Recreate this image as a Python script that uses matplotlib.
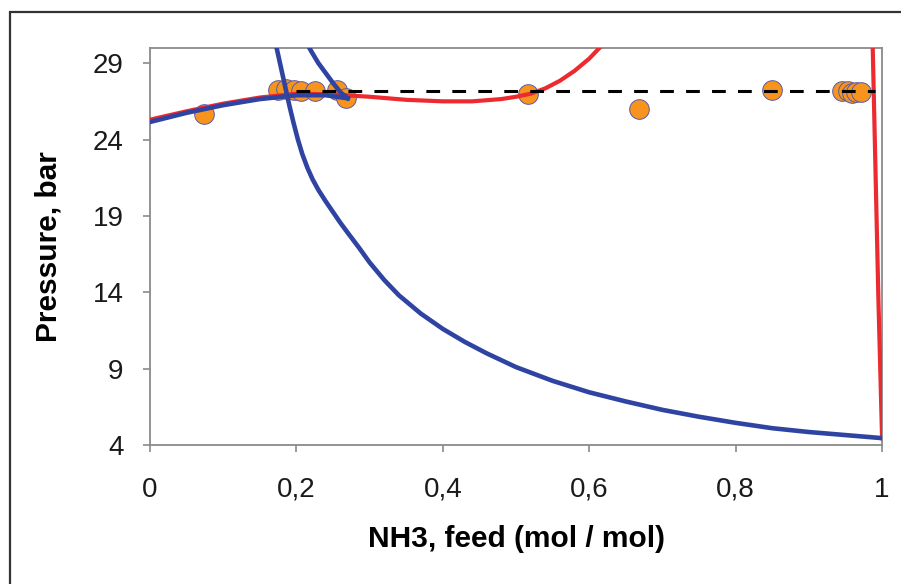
import matplotlib.pyplot as plt
from matplotlib.patches import Rectangle
from matplotlib.ticker import FixedLocator, FixedFormatter

plt.rcParams['font.family'] = ['Liberation Sans', 'DejaVu Sans']

# measured points (orange markers)
meas_x = [0.074, 0.175, 0.186, 0.196, 0.206, 0.226, 0.255, 0.268,
          0.516, 0.668, 0.849, 0.945, 0.953, 0.959, 0.965, 0.971]
meas_p = [25.7, 27.25, 27.3, 27.25, 27.2, 27.2, 27.25, 26.75,
          26.95, 26.0, 27.25, 27.2, 27.15, 27.05, 27.1, 27.1]

# red model: bubble branch and dew branch near pure NH3
red_x = [0.0, 0.05, 0.1, 0.15, 0.2, 0.25, 0.3, 0.35, 0.4, 0.44,
         0.48, 0.5, 0.52, 0.54, 0.56, 0.58, 0.60, 0.615, 0.625]
red_p = [25.3, 25.85, 26.35, 26.75, 27.0, 26.95, 26.8, 26.6, 26.5, 26.5,
         26.65, 26.8, 27.0, 27.35, 27.85, 28.5, 29.3, 30.05, 30.6]
red2_x = [0.987, 0.991, 0.995, 1.0]
red2_p = [30.5, 22.0, 13.5, 4.45]

# blue model: bubble branch, short dew branch, long dew branch
blue_x = [0.0, 0.05, 0.1, 0.15, 0.2, 0.24, 0.27]
blue_p = [25.15, 25.75, 26.25, 26.65, 26.9, 26.9, 26.7]
blue2_x = [0.212, 0.22, 0.23, 0.24, 0.25, 0.26, 0.27]
blue2_p = [30.5, 29.8, 29.0, 28.35, 27.7, 27.1, 26.7]
blue3_x = [0.172, 0.178, 0.184, 0.19, 0.196, 0.202, 0.208, 0.215, 0.222, 0.23,
           0.24, 0.25, 0.26, 0.27, 0.285, 0.30, 0.32, 0.34, 0.37, 0.40,
           0.43, 0.46, 0.50, 0.55, 0.60, 0.65, 0.70, 0.75, 0.80, 0.85,
           0.90, 0.95, 1.0]
blue3_p = [30.2, 28.9, 27.6, 26.3, 25.1, 24.0, 23.05, 22.15, 21.4, 20.7,
           19.95, 19.25, 18.55, 17.9, 16.95, 15.95, 14.8, 13.8, 12.6, 11.6,
           10.75, 10.0, 9.1, 8.2, 7.45, 6.85, 6.3, 5.85, 5.45, 5.1,
           4.85, 4.65, 4.45]

# experimental pressure level
exp_x = [0.2, 0.99]
exp_p = [27.2, 27.2]

xticks = [0, 0.2, 0.4, 0.6, 0.8, 1.0]
xtick_labels = ['0', '0,2', '0,4', '0,6', '0,8', '1']
yticks = [4, 9, 14, 19, 24, 29]

red = '#EC2A30'
blue = '#2F44A2'
orange = '#F7941E'
grey = '#8A8A8A'

fig = plt.figure(figsize=(9.01, 5.84), dpi=100)
ax = fig.add_axes([0.1665, 0.238, 0.8125, 0.68])

ax.scatter(meas_x, meas_p, s=200, color=orange, edgecolors='#5A5AA8',
           linewidths=0.7, zorder=2)
ax.plot(red_x, red_p, color=red, lw=3.0, zorder=3, solid_joinstyle='round')
ax.plot(red2_x, red2_p, color=red, lw=3.0, zorder=3)
ax.plot(blue_x, blue_p, color=blue, lw=3.3, zorder=4, solid_joinstyle='round')
ax.plot(blue2_x, blue2_p, color=blue, lw=3.3, zorder=4, solid_joinstyle='round')
ax.plot(blue3_x, blue3_p, color=blue, lw=3.3, zorder=4, solid_joinstyle='round')
ax.plot(exp_x, exp_p, color='black', lw=2.2, dashes=(4.5, 4.0), zorder=5)

ax.set_xlim(0, 1)
ax.set_ylim(4, 30)
ax.xaxis.set_major_locator(FixedLocator(xticks))
ax.xaxis.set_major_formatter(FixedFormatter(xtick_labels))
ax.set_yticks(yticks)

for s in ax.spines.values():
    s.set_color(grey)
    s.set_linewidth(1.3)
ax.tick_params(axis='both', direction='out', length=5, width=1.2, color=grey,
               labelsize=20, labelcolor='#1a1a1a')
ax.tick_params(axis='x', pad=18)
ax.tick_params(axis='y', pad=14)

ax.set_xlabel('NH3, feed (mol / mol)', fontsize=21.5, fontweight='bold', labelpad=16)
ax.set_ylabel('Pressure, bar', fontsize=21.5, fontweight='bold', labelpad=22)

# outer frame of the original picture (left and top edges)
fig.patches.append(Rectangle((10 / 901, -0.1), 1.2, 1 - 12 / 584 + 0.1,
                             transform=fig.transFigure, fill=False,
                             edgecolor='#333333', lw=1.6))

fig.savefig('out.png', dpi=100)
